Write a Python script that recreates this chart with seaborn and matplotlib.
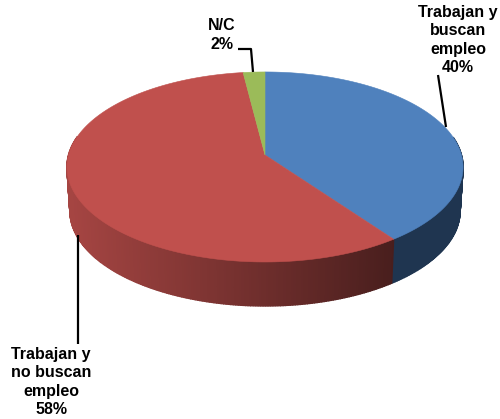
import numpy as np
import pandas as pd
import matplotlib
matplotlib.use("Agg")
import matplotlib.pyplot as plt
import seaborn as sns

labels = ["Trabajan y\nbuscan\nempleo\n40%", "Trabajan y\nno buscan\nempleo\n58%", "N/C\n2%"]
values = [40, 58, 2]
colors = ["#4F81BD", "#C0504D", "#9BBB59"]

# pixel geometry of the tilted disc
CX, CY = 265, 155
RX, DOWN, TILT = 196.5, 93.5, 0.126
DEPTH, BOTTOM_SCALE = 44, 0.985


def project(angle, radius=1.0, depth=0.0):
    # angle runs clockwise from 12 o'clock, with a little perspective
    u = radius * np.sin(angle)
    v = radius * np.cos(angle)
    w = 1 + TILT * v
    s = BOTTOM_SCALE if depth else 1.0
    return CX + s * RX * u / w, CY - DOWN * v / w + depth


def wall_shade(x, color):
    base = np.array(matplotlib.colors.to_rgb(color))
    if color == colors[0]:
        return "#1F3550"
    # red side gets lit from the left
    t = np.clip((x - 70) / 323, 0, 1)
    left, right = base * 0.86, base * 0.38
    return tuple(left + (right - left) * t)


def pie_3d():
    sns.set_theme(style="white")
    plt.rcParams["font.family"] = ["Liberation Sans", "DejaVu Sans"]

    fig = plt.figure(figsize=(5.0, 4.19), dpi=100)
    ax = fig.add_axes([0, 0, 1, 1])
    ax.set_xlim(0, 500)
    ax.set_ylim(419, 0)
    ax.axis("off")

    edges = np.radians(np.concatenate([[0], np.cumsum(values)]) * 3.6)

    # side wall first
    for start, end, color in zip(edges[:-1], edges[1:], colors):
        steps = np.linspace(start, end, max(int((end - start) * 90), 2))
        for a, b in zip(steps[:-1], steps[1:]):
            if np.cos((a + b) / 2) > 0.2:
                continue
            xa, ya = project(a)
            xb, yb = project(b)
            xc, yc = project(b, depth=DEPTH)
            xd, yd = project(a, depth=DEPTH)
            shade = wall_shade((xa + xb) / 2, color)
            ax.fill([xa, xb, xc, xd], [ya, yb, yc, yd], color=shade, lw=1.0)

    # top face
    for start, end, color in zip(edges[:-1], edges[1:], colors):
        steps = np.linspace(start, end, 200)
        x, y = project(steps)
        ax.fill(np.r_[CX, x], np.r_[CY, y], color=color, lw=0.4)

    # leader lines
    leaders = pd.DataFrame({
        "x": [438, 446, np.nan, 78, 78, np.nan, 238, 251, 253],
        "y": [75, 127, np.nan, 235, 344, np.nan, 49, 49, 72],
        "group": ["a", "a", "a", "b", "b", "b", "c", "c", "c"],
    })
    for _, part in leaders.dropna().groupby("group"):
        ax.plot(part["x"], part["y"], color="black", lw=1.6, solid_capstyle="butt", zorder=5)

    text_pos = [(458, 40), (51, 382), (222, 35)]
    for label, (tx, ty) in zip(labels, text_pos):
        ax.text(tx, ty, label, ha="center", va="center", fontsize=11.5,
                fontweight="bold", color="black", linespacing=1.28)

    fig.savefig("out.png", dpi=100)


if __name__ == "__main__":
    pie_3d()
